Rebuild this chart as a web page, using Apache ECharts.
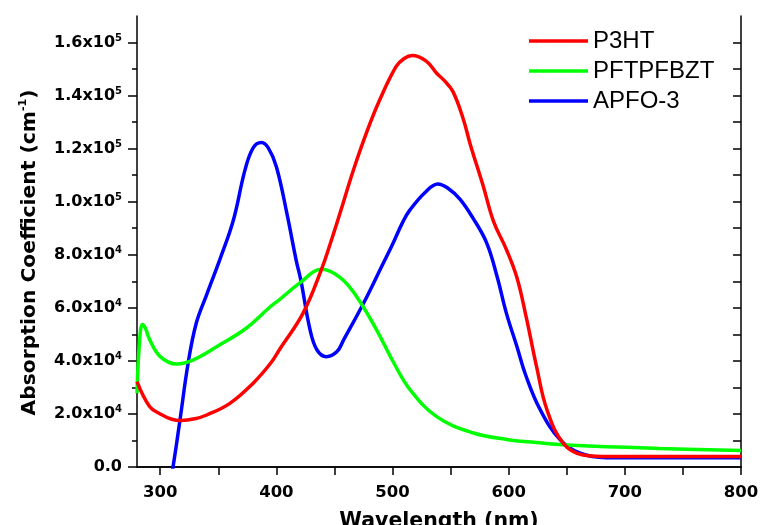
<!DOCTYPE html>
<html>
<head>
<meta charset="utf-8">
<script src="https://cdn.jsdelivr.net/npm/echarts@6/dist/echarts.min.js"></script>
<style>
  html, body { margin: 0; padding: 0; background: #fff; }
  #chart { width: 760px; height: 525px; }
</style>
</head>
<body>
<div id="chart"></div>
<script>
// Absorption spectra of three polymers (absorption coefficient vs wavelength)
const seriesNames = ['P3HT', 'PFTPFBZT', 'APFO-3'];
const seriesColors = ['#ff0000', '#00ff00', '#0000ff'];

const p3htWavelength = [280, 291, 300, 310, 318, 330, 340, 360, 380, 395, 403, 423, 439, 447, 455, 466, 478, 489, 503, 510, 517, 529, 538, 544, 552, 561, 567, 578, 587, 598, 607, 615, 624, 633, 647, 664, 680, 700, 750, 800];
const p3htAbs = [32200, 22700, 20000, 18000, 17500, 18200, 19600, 24000, 31600, 39100, 44500, 58000, 74700, 85000, 96000, 111500, 126500, 138400, 150900, 154000, 155100, 153000, 148400, 145900, 141500, 131000, 121500, 106000, 92500, 82000, 71500, 56700, 37800, 21500, 8900, 4500, 4000, 4000, 4000, 4000];

const pftWavelength = [280, 282, 284.6, 287, 291, 300, 314, 328, 351, 374, 394.5, 403, 420, 439, 455, 469, 486, 501, 515, 538, 569, 598, 627, 655, 730, 800];
const pftAbs = [27800, 46000, 53700, 52500, 47900, 41600, 38800, 40300, 46000, 52300, 60300, 63200, 69300, 74500, 71400, 64300, 51900, 39300, 29200, 19000, 12900, 10400, 9100, 8200, 7000, 6200];

const apfoWavelength = [306, 311, 317, 324, 331, 340, 352, 363, 373, 380, 387, 393, 400, 409, 417, 421, 429, 435, 443, 452, 458, 475, 492, 499, 509, 515, 528, 539, 548, 558, 569, 581, 590, 598, 607, 615, 627, 644, 661, 684, 700, 800];
const apfoAbs = [-12000, 0, 17700, 39100, 54200, 65000, 79000, 93100, 112000, 120300, 122300, 120300, 113200, 95700, 78000, 70500, 51700, 44100, 41600, 43400, 48000, 61700, 76800, 83000, 92500, 96900, 103500, 106700, 105000, 101000, 94000, 84500, 71800, 58000, 45500, 34200, 21700, 10400, 5300, 3500, 3500, 3500];

// Axis ticks and labels
const xLabelValues = [300, 400, 500, 600, 700, 800];
const xTickValues = [300, 350, 400, 450, 500, 550, 600, 650, 700, 750, 800];
const yLabelValues = [0, 20000, 40000, 60000, 80000, 100000, 120000, 140000, 160000];
const yMinorValues = [10000, 30000, 50000, 70000, 90000, 110000, 130000, 150000];
const yRightTickValues = [10000, 20000, 30000, 40000, 50000, 60000, 70000, 80000, 90000, 100000, 110000, 120000, 130000, 140000, 150000, 160000];

const BOLD = 'DejaVu Sans';
const axisLineStyle = { color: '#000', width: 1.5 };

function sciLabel(v) {
  if (v === 0) return '{m|0.0}';
  const e = Math.floor(Math.log10(v) + 1e-9);
  const m = (v / Math.pow(10, e)).toFixed(1);
  return '{m|' + m + 'x10}{e|' + e + '}';
}

function pairs(xs, ys) {
  return xs.map((x, i) => [x, ys[i]]);
}

const chart = echarts.init(document.getElementById('chart'), null, { renderer: 'canvas' });

const seriesData = [
  pairs(p3htWavelength, p3htAbs),
  pairs(pftWavelength, pftAbs),
  pairs(apfoWavelength, apfoAbs)
];

chart.setOption({
  animation: false,
  backgroundColor: '#fff',
  grid: { left: 137, right: 19, top: 16, bottom: 58, containLabel: false, outerBoundsMode: 'none' },
  legend: {
    orient: 'vertical',
    left: 524,
    top: 24,
    icon: 'rect',
    itemWidth: 59,
    itemHeight: 3.5,
    itemGap: 6,
    data: seriesNames,
    textStyle: {
      fontFamily: 'Liberation Sans, Arial, sans-serif',
      fontSize: 24,
      lineHeight: 24,
      color: '#000'
    }
  },
  xAxis: [
    {
      type: 'value',
      min: 280,
      max: 800,
      position: 'bottom',
      name: 'Wavelength (nm)',
      nameLocation: 'middle',
      nameGap: 44,
      nameTextStyle: { fontFamily: BOLD, fontWeight: 'bold', fontSize: 20.5, color: '#000' },
      axisLine: { show: true, lineStyle: axisLineStyle },
      axisTick: { show: true, inside: false, length: 6, customValues: xTickValues, lineStyle: axisLineStyle },
      axisLabel: {
        customValues: xLabelValues,
        margin: 17,
        fontFamily: BOLD, fontWeight: 'bold', fontSize: 16.5, color: '#000'
      },
      splitLine: { show: false }
    },
    {
      type: 'value',
      min: 280,
      max: 800,
      position: 'top',
      axisLine: { show: true, lineStyle: axisLineStyle },
      axisTick: { show: true, inside: true, length: 8, customValues: xTickValues, lineStyle: axisLineStyle },
      axisLabel: { show: false },
      splitLine: { show: false }
    }
  ],
  yAxis: [
    {
      type: 'value',
      min: 0,
      max: 170000,
      position: 'left',
      name: '{t|Absorption Coefficient (cm}{s|-1}{t|)}',
      nameLocation: 'middle',
      nameGap: 95,
      nameRotate: 90,
      nameTextStyle: {
        padding: [0, 22, 0, 0],
        rich: {
          t: { fontFamily: BOLD, fontWeight: 'bold', fontSize: 20.3, color: '#000', lineHeight: 24 },
          s: { fontFamily: BOLD, fontWeight: 'bold', fontSize: 11, color: '#000', verticalAlign: 'top', lineHeight: 12 }
        }
      },
      axisLine: { show: true, lineStyle: axisLineStyle },
      axisTick: { show: true, inside: false, length: 9, customValues: yLabelValues, lineStyle: axisLineStyle },
      axisLabel: {
        customValues: yLabelValues,
        margin: 15,
        formatter: sciLabel,
        rich: {
          m: { fontFamily: BOLD, fontWeight: 'bold', fontSize: 16, color: '#000', lineHeight: 19 },
          e: { fontFamily: BOLD, fontWeight: 'bold', fontSize: 10, color: '#000', verticalAlign: 'top', lineHeight: 10 }
        }
      },
      splitLine: { show: false }
    },
    {
      type: 'value',
      min: 0,
      max: 170000,
      position: 'left',
      axisLine: { show: false },
      axisTick: { show: true, inside: false, length: 5, customValues: yMinorValues, lineStyle: axisLineStyle },
      axisLabel: { show: false },
      splitLine: { show: false }
    },
    {
      type: 'value',
      min: 0,
      max: 170000,
      position: 'right',
      axisLine: { show: true, lineStyle: axisLineStyle },
      axisTick: { show: true, inside: true, length: 8, customValues: yRightTickValues, lineStyle: axisLineStyle },
      axisLabel: { show: false },
      splitLine: { show: false }
    }
  ],
  series: seriesNames.map((name, i) => ({
    name: name,
    type: 'line',
    xAxisIndex: 0,
    yAxisIndex: 0,
    data: seriesData[i],
    color: seriesColors[i],
    symbol: 'none',
    smooth: 0.4,
    clip: true,
    lineStyle: { color: seriesColors[i], width: 3.5 },
    z: 3 - i
  }))
});
</script>
</body>
</html>
